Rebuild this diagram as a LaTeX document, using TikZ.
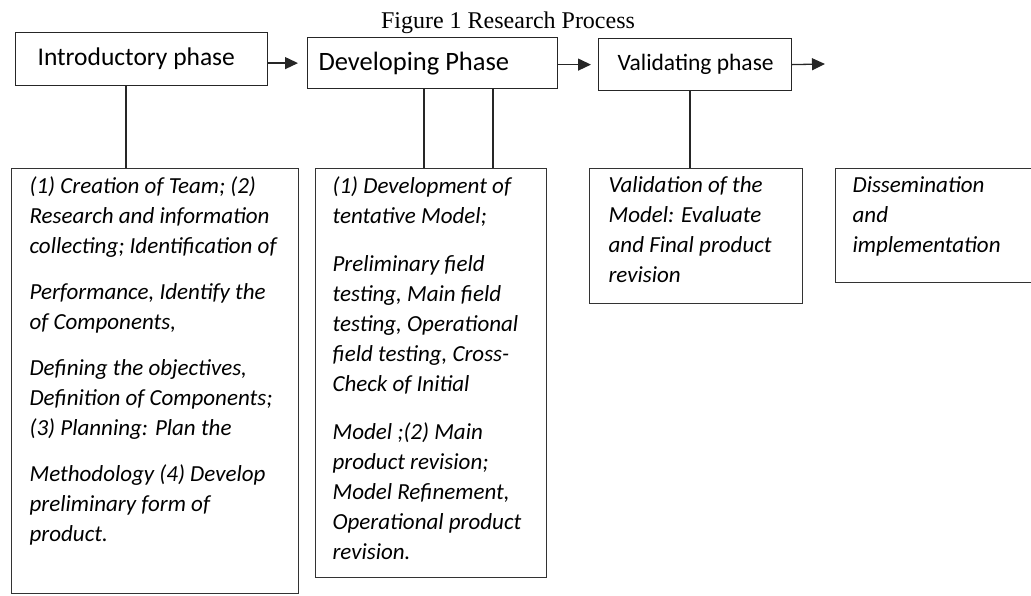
\documentclass[tikz,border=0pt]{standalone}
\usepackage{fontspec}
\setmainfont{Liberation Serif}
\newfontfamily\calibri{Carlito}
\usetikzlibrary{arrows.meta,positioning}
\tikzset{>={Triangle[length=13pt,width=12pt]}}
\tikzset{
	phase/.style={
			draw=black!85, line width=1.2pt, anchor=north west,
			inner xsep=#1, inner ysep=0pt,
			font=\calibri\fontsize{25.5}{28}\selectfont
		},
	detail/.style={
			draw=black!80, line width=1.2pt, anchor=north west,
			inner xsep=#1, inner ysep=8pt,
			font=\calibri\itshape\fontsize{23}{30}\selectfont
		},
	link/.style={line width=1.3pt, black!85}
}
\newcommand{\phasetext}[3]{\parbox[c][#1][c]{#2}{\makebox[#2][l]{#3}}}
\newcommand{\boxtext}[3]{\makebox[#2][l]{\parbox[t][#1][t]{\dimexpr#2+40pt\relax}{\raggedright #3}}}

\begin{document}
\begin{tikzpicture}[x=1pt, y=-1pt]
		\useasboundingbox (0,0) rectangle (1031,595);
		\clip (0,0) rectangle (1031,595);
		\node[anchor=base, font=\fontsize{24}{28}\selectfont] (title) at (508,28) {Figure 1 Research Process};

		\node[phase=22pt] (intro) at (15,32) {\phasetext{53pt}{208pt}{Introductory phase}};
		\node[phase=11pt, font=\calibri\fontsize{26.5}{28}\selectfont] (dev) at (307,37) {\phasetext{51pt}{228pt}{Developing Phase}};
		\node[phase=19pt, font=\calibri\fontsize{23.5}{28}\selectfont] (valid) at (598,38) {\phasetext{52pt}{155pt}{Validating phase}};
		\coordinate (next) at (825,64);

		\draw[link, ->, shorten >=9pt] (intro.east |- dev.west) -- (dev.west);
		\draw[link, ->, shorten >=7pt] (dev.east |- valid.west) -- (valid.west);
		\draw[link, ->] (valid.east) -- (next);

		\node[detail=18pt] (introtxt) at (11,168) {\boxtext{409pt}{251pt}{%
				(1) Creation of Team; (2)\\
				Research and information\\
				collecting; Identification of\\[16pt]
				Performance, Identify the\\
				of Components,\\[16pt]
				Defining the objectives,\\
				Definition of Components;\\
				(3) Planning: Plan the\\[16pt]
				Methodology (4) Develop\\
				preliminary form of\\
				product.}};
		\node[detail=17pt] (devtxt) at (315,168) {\boxtext{393pt}{197pt}{%
				(1) Development of\\
				tentative Model;\\[18pt]
				Preliminary field\\
				testing, Main field\\
				testing, Operational\\
				field testing, Cross-\\
				Check of Initial\\[18pt]
				Model ;(2) Main\\
				product revision;\\
				Model Refinement,\\
				Operational product\\
				revision.}};
		\node[detail=19pt] (validtxt) at (589,168) {\boxtext{119pt}{175pt}{%
				Validation of the\\
				Model: Evaluate\\
				and Final product\\
				revision}};
		\node[detail=17pt] (disstxt) at (835,168) {\boxtext{98pt}{200pt}{%
				Dissemination\\
				and\\
				implementation}};

		\coordinate (l1) at (126,0);
		\coordinate (l2) at (424,0);
		\coordinate (l3) at (493,0);
		\coordinate (l4) at (690,0);
		\draw[link] (intro.south -| l1) -- (introtxt.north -| l1);
		\draw[link] (dev.south -| l2) -- (devtxt.north -| l2);
		\draw[link] (dev.south -| l3) -- (devtxt.north -| l3);
		\draw[link] (valid.south -| l4) -- (validtxt.north -| l4);
	\end{tikzpicture}
\end{document}
